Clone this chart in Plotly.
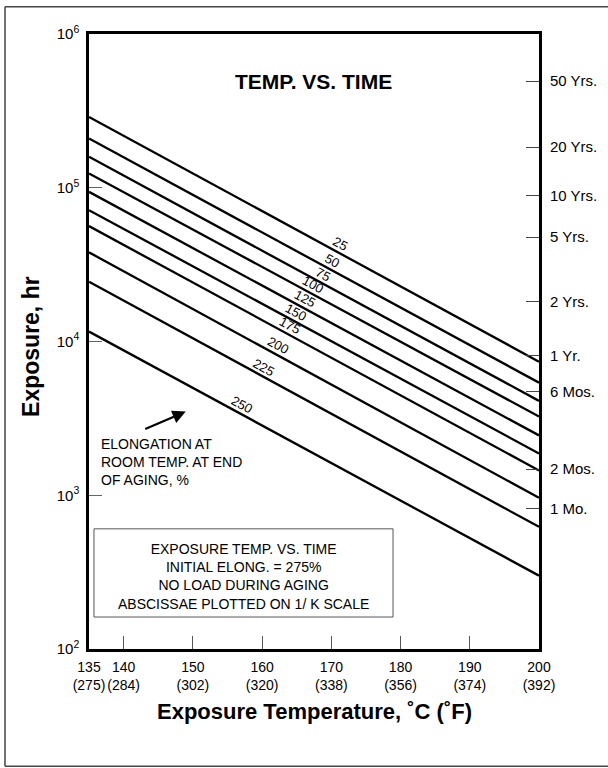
import math
import plotly.graph_objects as go

# elongation curves (% at room temp after aging): exposure hours at 135 C and 200 C
elong = [25, 50, 75, 100, 125, 150, 175, 200, 225, 250]
hours_135 = [2.89e5, 2.09e5, 1.59e5, 1.24e5, 9.4e4, 7.15e4, 5.63e4, 3.80e4, 2.45e4, 1.16e4]
hours_200 = [7.39e3, 5.40e3, 4.11e3, 3.25e3, 2.45e3, 1.87e3, 1.45e3, 962, 623, 300]
temp_ends = [135, 200]

# where the curve labels sit along each line (deg C)
label_temp = [170.8, 169.6, 168.4, 166.9, 165.7, 164.5, 163.6, 161.9, 159.8, 156.6]

temp_c = [135, 140, 150, 160, 170, 180, 190, 200]
temp_f = [275, 284, 302, 320, 338, 356, 374, 392]

decades = [1e2, 1e3, 1e4, 1e5, 1e6]
decade_text = ["10<sup>2</sup>", "10<sup>3</sup>", "10<sup>4</sup>", "10<sup>5</sup>", "10<sup>6</sup>"]

time_hours = [4.93e5, 1.84e5, 8.86e4, 4.78e4, 1.81e4, 8.08e3, 4.72e3, 1.48e3, 820]
time_text = ["50 Yrs.", "20 Yrs.", "10 Yrs.", "5 Yrs.", "2 Yrs.", "1 Yr.", "6 Mos.", "2 Mos.", "1 Mo."]

FONT = "Arial, Liberation Sans, sans-serif"

fig = go.Figure()
for e, h0, h1 in zip(elong, hours_135, hours_200):
    fig.add_trace(go.Scatter(x=temp_ends, y=[h0, h1], mode="lines", name=str(e),
                             line=dict(color="black", width=2.3), hoverinfo="skip"))
# dummy trace so the right-hand time axis gets drawn
fig.add_trace(go.Scatter(x=temp_ends, y=[hours_135[0], hours_200[0]], yaxis="y2", mode="lines",
                         line=dict(width=0), opacity=0, hoverinfo="skip", showlegend=False))

# curve labels, rotated along the lines
for e, h0, h1, t in zip(elong, hours_135, hours_200, label_temp):
    f = (t - temp_ends[0]) / (temp_ends[1] - temp_ends[0])
    ylog = (1 - f) * math.log10(h0) + f * math.log10(h1)
    fig.add_annotation(x=t, y=ylog, text=str(e), showarrow=False, xanchor="center", yanchor="middle",
                       textangle=28.5, yshift=8, xshift=3, font=dict(size=13, color="black"))

fig.update_layout(
    width=608, height=768,
    margin=dict(l=89, r=69, t=34, b=119),
    paper_bgcolor="white", plot_bgcolor="white",
    font=dict(family=FONT, color="black", size=14),
    showlegend=False,
    xaxis=dict(range=[135, 200], tickvals=temp_c,
               ticktext=[f"{c}<br>({f})" for c, f in zip(temp_c, temp_f)],
               tickangle=0, ticks="inside", ticklen=13, tickcolor="#555", tickwidth=1,
               showline=True, linecolor="black", linewidth=2.5, mirror=True,
               showgrid=False, zeroline=False, ticklabelstandoff=3,
               tickfont=dict(size=14)),
    yaxis=dict(type="log", range=[2, 6], tickvals=decades, ticktext=decade_text,
               ticks="inside", ticklen=13, tickcolor="#666", tickwidth=1,
               showline=True, linecolor="black", linewidth=2.5, mirror=True,
               showgrid=False, zeroline=False, ticklabelstandoff=4,
               tickfont=dict(size=15)),
    yaxis2=dict(type="log", range=[2, 6], overlaying="y", side="right",
                tickvals=time_hours, ticktext=time_text,
                ticks="inside", ticklen=13, tickcolor="#444", tickwidth=1,
                showline=False, showgrid=False, zeroline=False, ticklabelstandoff=10,
                tickfont=dict(size=15)),
)

# outer frame (drawn side by side) and note box
frame_x = [-0.1867, 1.16]
frame_y = [-0.1907, 1.0445]
for x0, y0, x1, y1 in [(frame_x[0], frame_y[1], frame_x[1], frame_y[1]),
                       (frame_x[0], frame_y[0], frame_x[1], frame_y[0]),
                       (frame_x[0], frame_y[0], frame_x[0], frame_y[1])]:
    fig.add_shape(type="line", xref="paper", yref="paper", x0=x0, y0=y0, x1=x1, y1=y1,
                  line=dict(color="#444", width=1.5))
fig.add_shape(type="rect", xref="paper", yref="paper", x0=0.0111, x1=0.6756, y0=0.052, y1=0.1954,
              line=dict(color="#555", width=1))

fig.add_annotation(xref="paper", yref="paper", x=0.498, y=0.922, xanchor="center", yanchor="middle",
                   text="<b>TEMP. VS. TIME</b>", showarrow=False, font=dict(size=21))
fig.add_annotation(xref="paper", yref="paper", x=0.343, y=0.1174, xanchor="center", yanchor="middle",
                   showarrow=False, align="center",
                   text="EXPOSURE TEMP. VS. TIME<br>INITIAL ELONG. = 275%<br>NO LOAD DURING AGING<br>"
                        "ABSCISSAE PLOTTED ON 1/ K SCALE", font=dict(size=14))
fig.add_annotation(xref="paper", yref="paper", x=0.0229, y=0.3038, xanchor="left", yanchor="middle",
                   showarrow=False, align="left",
                   text="ELONGATION AT<br>ROOM TEMP. AT END<br>OF AGING, %", font=dict(size=14))
fig.add_annotation(xref="paper", yref="paper", x=0.215, y=0.386, ax=-42, ay=18, text="",
                   showarrow=True, arrowhead=2, arrowsize=1.2, arrowwidth=2.2, arrowcolor="black")
fig.add_annotation(xref="paper", yref="paper", x=-0.129, y=0.4927, xanchor="center", yanchor="middle",
                   text="<b>Exposure, hr</b>", textangle=-90, showarrow=False, font=dict(size=23))
fig.add_annotation(xref="paper", yref="paper", x=0.5, y=-0.102, xanchor="center", yanchor="middle",
                   text="<b>Exposure Temperature, ˚C (˚F)</b>", showarrow=False, font=dict(size=22))

fig.write_html("out.html", config={"displayModeBar": False},
               post_script="document.body.style.margin='0';")
